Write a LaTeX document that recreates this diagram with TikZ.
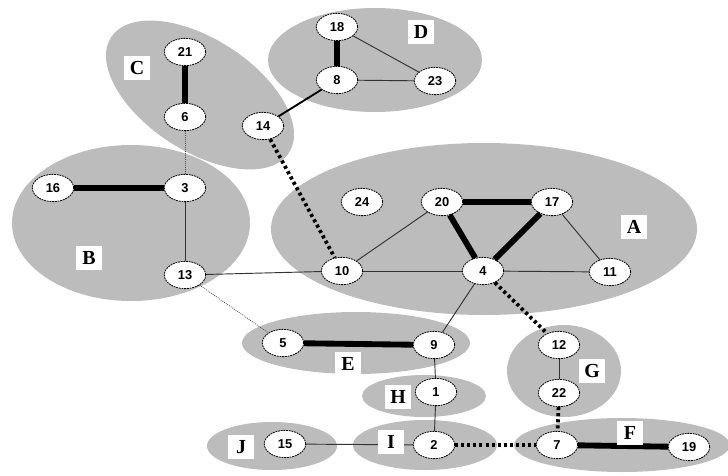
\documentclass[tikz,border=0pt]{standalone}
\usepackage{fontspec}
\setmainfont{Liberation Serif}
\setsansfont{Liberation Sans}
\usetikzlibrary{shapes.geometric}
\definecolor{clus}{RGB}{188,188,188}
\tikzset{
  clusterbg/.style={fill=clus, draw=none},
  vnode/.style={ellipse, draw, fill=white, line width=0.7pt, dash pattern=on 1.6pt off 0.7pt,
     minimum width=1.24cm, minimum height=0.82cm, inner sep=0pt,
     font=\sffamily\bfseries\fontsize{11}{13}\selectfont},
  glabel/.style={fill=white, inner sep=2pt, minimum width=0.8cm, minimum height=0.72cm,
     font=\rmfamily\bfseries\fontsize{17}{20}\selectfont},
  thinedge/.style={line width=0.8pt, black!80},
  dotthin/.style={line width=0.7pt, black!70, densely dotted},
  midedge/.style={line width=1.6pt},
  heavy/.style={line width=5pt},
  heavydot/.style={line width=3.2pt, dash pattern=on 2.6pt off 2.6pt},
}
\begin{document}
\begin{tikzpicture}[x=0.03cm,y=-0.03cm]
\useasboundingbox (0,0) rectangle (728,475);
% clusters
\fill[clusterbg] (131,223) ellipse [x radius=119, y radius=78];
\fill[clusterbg, rotate around={-33:(200,95)}] (200,95) ellipse [x radius=106, y radius=56];
\fill[clusterbg] (375,60) ellipse [x radius=107, y radius=52];
\fill[clusterbg] (484,229) ellipse [x radius=213, y radius=86];
\fill[clusterbg] (356,343) ellipse [x radius=114, y radius=31];
\fill[clusterbg] (564,371) ellipse [x radius=57, y radius=46];
\fill[clusterbg] (424,396) ellipse [x radius=62, y radius=21];
\fill[clusterbg] (425,445) ellipse [x radius=72, y radius=25];
\fill[clusterbg] (622,445) ellipse [x radius=108, y radius=27];
\fill[clusterbg] (272,446) ellipse [x radius=65, y radius=24];
% nodes
\node[vnode] (n21) at (185,52) {21};
\node[vnode] (n6) at (185,117) {6};
\node[vnode] (n14) at (263,126) {14};
\node[vnode] (n18) at (337,27) {18};
\node[vnode] (n8) at (337,80) {8};
\node[vnode] (n23) at (435,81) {23};
\node[vnode] (n16) at (53,188) {16};
\node[vnode] (n3) at (185,188) {3};
\node[vnode] (n24) at (362,202) {24};
\node[vnode] (n20) at (442,202) {20};
\node[vnode] (n17) at (552,202) {17};
\node[vnode] (n13) at (185,275) {13};
\node[vnode] (n10) at (342,271) {10};
\node[vnode] (n4) at (483,271) {4};
\node[vnode] (n11) at (610,272) {11};
\node[vnode] (n5) at (283,343) {5};
\node[vnode] (n9) at (434,345) {9};
\node[vnode] (n12) at (559,345) {12};
\node[vnode] (n22) at (559,393) {22};
\node[vnode] (n1) at (436,392) {1};
\node[vnode] (n2) at (434,445) {2};
\node[vnode] (n7) at (557,445) {7};
\node[vnode] (n19) at (689,447) {19};
\node[vnode] (n15) at (285,444) {15};
% edges
\path
  (n21) edge[heavy] (n6)
  (n6) edge[dotthin] (n3)
  (n16) edge[heavy] (n3)
  (n3) edge[thinedge] (n13)
  (n14) edge[midedge] (n8)
  (n14) edge[heavydot] (n10)
  (n18) edge[heavy] (n8)
  (n18) edge[thinedge] (n23)
  (n8) edge[thinedge] (n23)
  (n13) edge[thinedge] (n10)
  (n10) edge[thinedge] (n4)
  (n4) edge[thinedge] (n11)
  (n10) edge[thinedge] (n20)
  (n20) edge[heavy] (n17)
  (n20) edge[heavy] (n4)
  (n17) edge[heavy] (n4)
  (n17) edge[thinedge] (n11)
  (n4) edge[thinedge] (n9)
  (n4) edge[heavydot] (n12)
  (n13) edge[dotthin] (n5)
  (n5) edge[heavy] (n9)
  (n9) edge[thinedge] (n1)
  (n1) edge[thinedge] (n2)
  (n12) edge[thinedge] (n22)
  (n22) edge[heavydot] (n7)
  (n2) edge[heavydot] (n7)
  (n7) edge[heavy] (n19)
  (n15) edge[thinedge] (n2);
% labels
\node[glabel] (lC) at (137,68) {C};
\node[glabel] (lD) at (421,32) {D};
\node[glabel] (lB) at (89,258) {B};
\node[glabel] (lA) at (634,227) {A};
\node[glabel] (lE) at (348,364) {E};
\node[glabel] (lH) at (398,397) {H};
\node[glabel] (lG) at (592,371) {G};
\node[glabel] (lI) at (391,442) {I};
\node[glabel] (lF) at (630,433) {F};
\node[glabel] (lJ) at (241,447) {J};
\end{tikzpicture}
\end{document}
